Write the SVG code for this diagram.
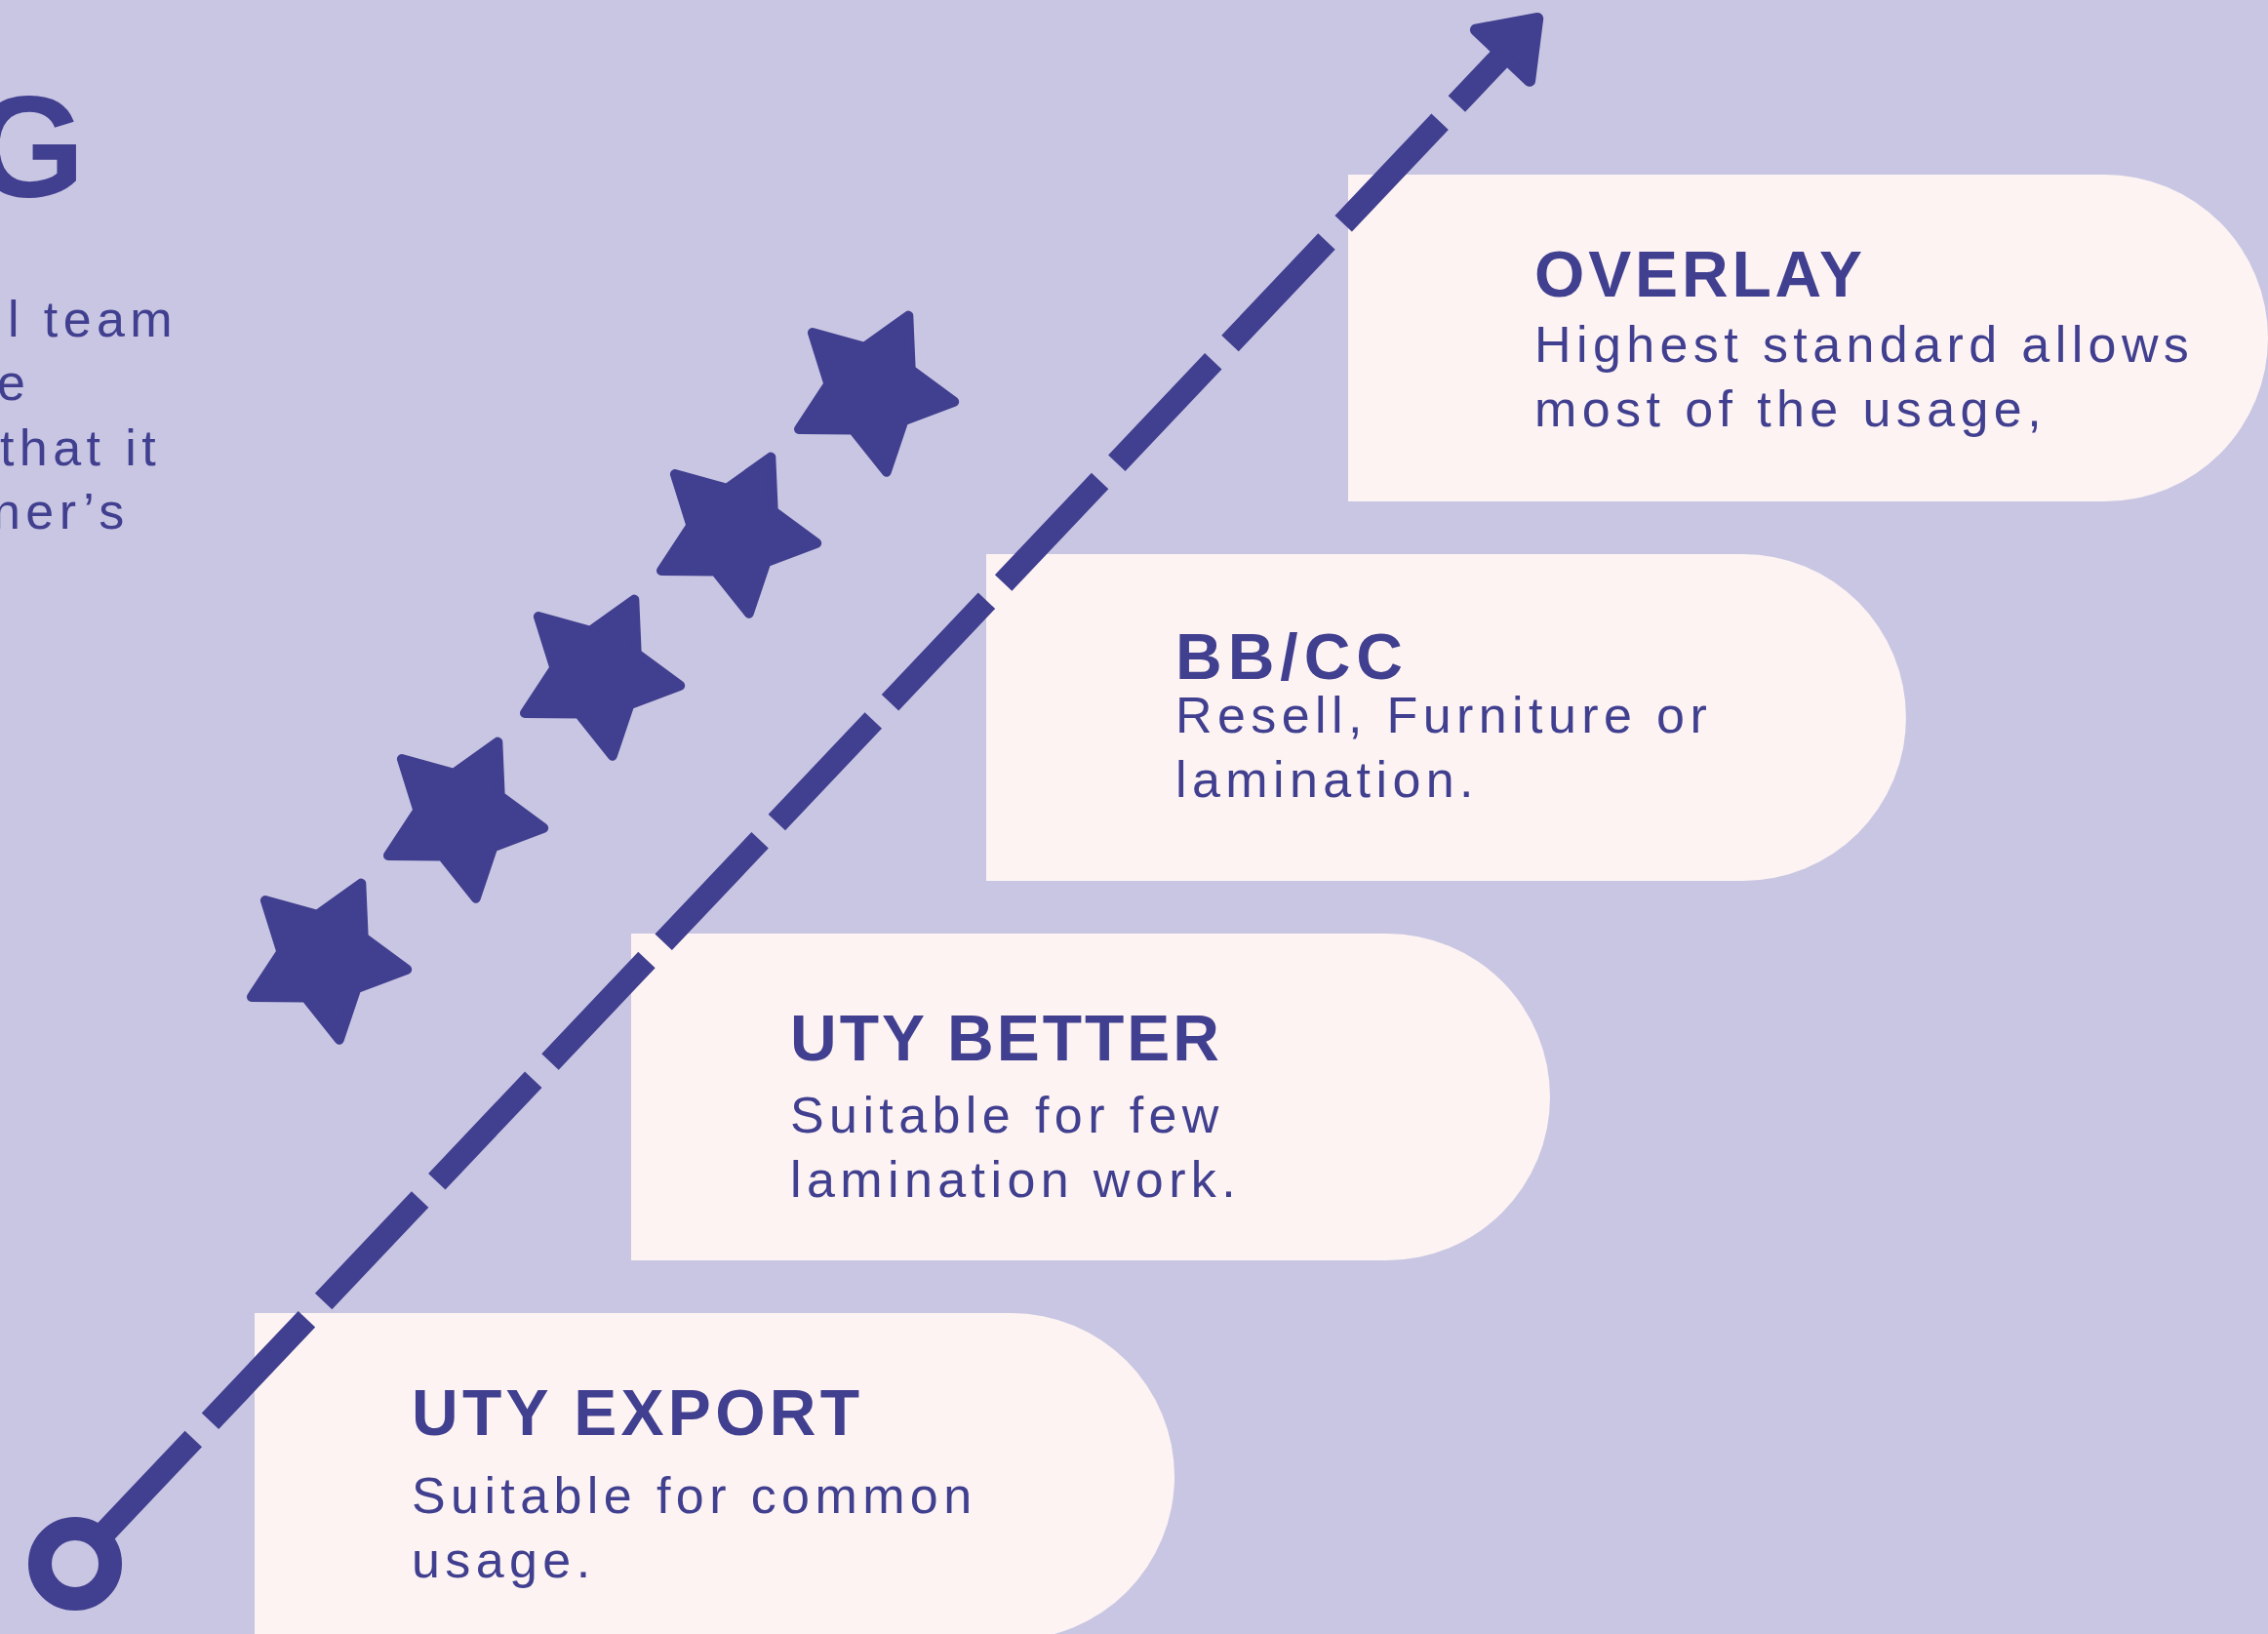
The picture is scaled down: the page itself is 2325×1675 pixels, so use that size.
<svg xmlns="http://www.w3.org/2000/svg" width="2325" height="1675" viewBox="0 0 2325 1675">
  <defs>
    <style>
      .bg { fill: #C9C6E3; }
      .card { fill: #FCF3F2; }
      .title { font-family: "Liberation Sans", Arial, sans-serif; font-weight: 700; font-size: 66px; fill: #413F8F; }
      .desc { font-family: "Liberation Sans", Arial, sans-serif; font-size: 52px; letter-spacing: 5.4px; fill: #413F8F; }
      .big { font-family: "Liberation Sans", Arial, sans-serif; font-weight: 700; font-size: 148px; fill: #413F8F; }
      .star { fill: #413F8F; stroke: #413F8F; stroke-width: 10; stroke-linejoin: round; }
      .axis { fill: none; stroke: #413F8F; stroke-width: 24; stroke-dasharray: 144 25; stroke-linecap: butt; }
    </style>
    <path id="starShape" d="M37.3,-76.4 L39.7,-21.1 L84.2,11.8 L32.4,31.3 L14.8,83.7 L-19.7,40.4 L-75,39.9 L-44.6,-6.3 L-61.1,-59 L-7.8,-44.3 Z"/>
    <marker id="arrowHead" markerUnits="userSpaceOnUse" orient="auto" refX="0" refY="0" markerWidth="120" markerHeight="120" viewBox="-20 -60 120 120" overflow="visible">
      <path d="M2,-38 L54,0 L2,38 Z" fill="#413F8F" stroke="#413F8F" stroke-width="12" stroke-linejoin="round"/>
    </marker>
  </defs>

  <rect class="bg" x="0" y="0" width="2325" height="1675"/>

  <g id="intro-text">
    <text class="big" x="87" y="202" text-anchor="end">G</text>
    <text class="desc" x="8" y="345">l team</text>
    <text class="desc" x="-3" y="410">e</text>
    <text class="desc" x="0" y="477">that it</text>
    <text class="desc" x="-8" y="542">ner’s</text>
  </g>

  <g id="node-overlay">
    <path class="card" d="M1382,179 H2157.5 A167.5,167.5 0 0 1 2157.5,514 H1382 Z"/>
    <text class="title" x="1573" y="304" textLength="336" lengthAdjust="spacing">OVERLAY</text>
    <text class="desc" x="1573" y="371">Highest standard allows</text>
    <text class="desc" x="1573" y="437">most of the usage,</text>
  </g>

  <g id="node-bbcc">
    <path class="card" d="M1011,568 H1786.5 A167.5,167.5 0 0 1 1786.5,903 H1011 Z"/>
    <text class="title" x="1205" y="696" textLength="233" lengthAdjust="spacing">BB/CC</text>
    <text class="desc" x="1205" y="751">Resell, Furniture or</text>
    <text class="desc" x="1205" y="817">lamination.</text>
  </g>

  <g id="node-uty-better">
    <path class="card" d="M647,957 H1421.5 A167.5,167.5 0 0 1 1421.5,1292 H647 Z"/>
    <text class="title" x="810" y="1087" textLength="440" lengthAdjust="spacing">UTY BETTER</text>
    <text class="desc" x="810" y="1161">Suitable for few</text>
    <text class="desc" x="810" y="1227">lamination work.</text>
  </g>

  <g id="node-uty-export">
    <path class="card" d="M261,1346 H1036.5 A167.5,167.5 0 0 1 1036.5,1681 H261 Z"/>
    <text class="title" x="422" y="1471" textLength="459" lengthAdjust="spacing">UTY EXPORT</text>
    <text class="desc" x="422" y="1551">Suitable for common</text>
    <text class="desc" x="422" y="1617">usage.</text>
  </g>

  <g id="stars">
    <use href="#starShape" class="star" x="333" y="982"/>
    <use href="#starShape" class="star" x="473" y="837"/>
    <use href="#starShape" class="star" x="613" y="691"/>
    <use href="#starShape" class="star" x="753" y="545"/>
    <use href="#starShape" class="star" x="894" y="400"/>
  </g>

  <g id="connectors">
    <path class="axis" d="M99.3,1579.5 L1539.1,58.2" marker-end="url(#arrowHead)"/>
    <circle cx="77" cy="1603" r="36" fill="none" stroke="#413F8F" stroke-width="24"/>
  </g>
</svg>
